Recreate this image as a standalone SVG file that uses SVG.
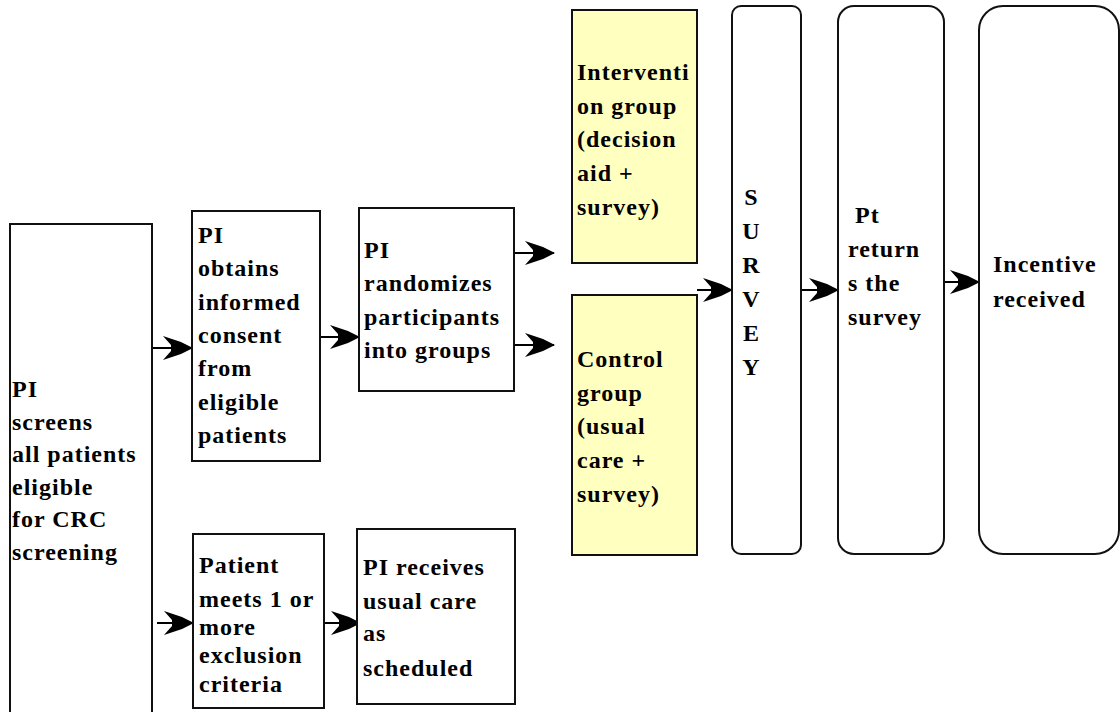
<svg xmlns="http://www.w3.org/2000/svg" width="1120" height="712" viewBox="0 0 1120 712">
<style>
.box{fill:#fff;stroke:#111;stroke-width:2}
.yel{fill:#ffffc0;stroke:#111;stroke-width:2}
.t{font-family:"Liberation Serif","Times New Roman",serif;font-weight:bold;font-size:24px;letter-spacing:1px;fill:#000}
.c{stroke:#000;stroke-width:2;fill:none;marker-end:url(#ah)}
</style>
<defs>
<marker id="ah" markerUnits="userSpaceOnUse" markerWidth="32" markerHeight="24" viewBox="0 0 32 24" refX="31" refY="12" orient="auto">
<path d="M32,12 L20,6 L2,0 L10,9 L10,15 L2,24 L20,18 Z" fill="#000"/>
</marker>
</defs>
<rect width="1120" height="712" fill="#fff"/>
<g id="connectors">
<line class="c" x1="152" y1="348" x2="192" y2="348"/>
<line class="c" x1="320" y1="337" x2="359" y2="337"/>
<line class="c" x1="514" y1="253" x2="554" y2="253"/>
<line class="c" x1="514" y1="345" x2="554" y2="345"/>
<line class="c" x1="697" y1="290" x2="732" y2="290"/>
<line class="c" x1="801" y1="290" x2="838" y2="290"/>
<line class="c" x1="944" y1="282" x2="979" y2="282"/>
<line class="c" x1="157" y1="623" x2="193" y2="623"/>
<line class="c" x1="324" y1="623" x2="360" y2="623"/>
</g>
<g id="screen">
<rect class="box" x="10" y="224" width="142" height="500"/>
<text class="t"><tspan x="12" y="397">PI</tspan><tspan x="12" y="430">screens</tspan><tspan x="12" y="462">all patients</tspan><tspan x="12" y="495">eligible</tspan><tspan x="12" y="527">for CRC</tspan><tspan x="12" y="560">screening</tspan></text>
</g>
<g id="consent">
<rect class="box" x="192" y="211" width="128" height="250"/>
<text class="t"><tspan x="198" y="243">PI</tspan><tspan x="198" y="276">obtains</tspan><tspan x="198" y="310">informed</tspan><tspan x="198" y="343">consent</tspan><tspan x="198" y="376">from</tspan><tspan x="198" y="410">eligible</tspan><tspan x="198" y="443">patients</tspan></text>
</g>
<g id="randomize">
<rect class="box" x="359" y="208" width="155" height="183"/>
<text class="t"><tspan x="364" y="258">PI</tspan><tspan x="364" y="291">randomizes</tspan><tspan x="364" y="325">participants</tspan><tspan x="364" y="358">into groups</tspan></text>
</g>
<g id="intervention">
<rect class="yel" x="572" y="10" width="125" height="253"/>
<text class="t"><tspan x="577" y="80">Interventi</tspan><tspan x="577" y="114">on group</tspan><tspan x="577" y="147">(decision</tspan><tspan x="577" y="181">aid +</tspan><tspan x="577" y="215">survey)</tspan></text>
</g>
<g id="control">
<rect class="yel" x="572" y="295" width="125" height="260"/>
<text class="t"><tspan x="577" y="367">Control</tspan><tspan x="577" y="401">group</tspan><tspan x="577" y="434">(usual</tspan><tspan x="577" y="468">care +</tspan><tspan x="577" y="502">survey)</tspan></text>
</g>
<g id="survey">
<rect class="box" x="732" y="6" width="69" height="548" rx="9" ry="9"/>
<text class="t" text-anchor="middle" style="letter-spacing:0"><tspan x="751" y="205">S</tspan><tspan x="751" y="239">U</tspan><tspan x="751" y="273">R</tspan><tspan x="751" y="307">V</tspan><tspan x="751" y="341">E</tspan><tspan x="751" y="375">Y</tspan></text>
</g>
<g id="returns">
<rect class="box" x="838" y="6" width="106" height="548" rx="16" ry="16"/>
<text class="t"><tspan x="855" y="223">Pt</tspan><tspan x="848" y="257">return</tspan><tspan x="848" y="291">s the</tspan><tspan x="848" y="325">survey</tspan></text>
</g>
<g id="incentive">
<rect class="box" x="979" y="6" width="140" height="548" rx="24" ry="24"/>
<text class="t"><tspan x="993" y="272">Incentive</tspan><tspan x="993" y="307">received</tspan></text>
</g>
<g id="exclusion">
<rect class="box" x="193" y="534" width="131" height="174"/>
<text class="t"><tspan x="199" y="573">Patient</tspan><tspan x="199" y="607">meets 1 or</tspan><tspan x="199" y="635">more</tspan><tspan x="199" y="663">exclusion</tspan><tspan x="199" y="692">criteria</tspan></text>
</g>
<g id="usualcare">
<rect class="box" x="357" y="529" width="158" height="175"/>
<text class="t"><tspan x="363" y="575">PI receives</tspan><tspan x="363" y="609">usual care</tspan><tspan x="363" y="641">as</tspan><tspan x="363" y="676">scheduled</tspan></text>
</g>
</svg>
